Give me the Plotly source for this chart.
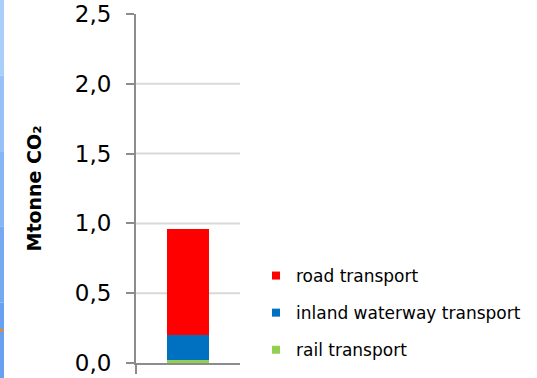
import plotly.graph_objects as go

# CO2 emissions of freight transport, by mode (Mtonne CO2)
modes = ["rail transport", "inland waterway transport", "road transport"]
emissions = {
    "rail transport": [0.02],
    "inland waterway transport": [0.18],
    "road transport": [0.76],
}
colors = {
    "rail transport": "#92d050",
    "inland waterway transport": "#0070c0",
    "road transport": "#ff0000",
}
y_ticks = [0.0, 0.5, 1.0, 1.5, 2.0, 2.5]
y_ticktext = ["0,0", "0,5", "1,0", "1,5", "2,0", "2,5"]
grid_values = [0.5, 1.0, 1.5, 2.0]

FONT = "DejaVu Sans"
W, H = 537, 378
L, R, T, B = 136, 297, 14, 15
plot_w = W - L - R
plot_h = H - T - B

fig = go.Figure()

# stacked bars, bottom to top
for m in modes:
    fig.add_trace(go.Bar(
        x=[0], y=emissions[m], name=m, width=0.41,
        marker=dict(color=colors[m], line=dict(width=0)),
        showlegend=False,
    ))
# legend entries with small square swatches, top segment listed first
for m in reversed(modes):
    fig.add_trace(go.Scatter(
        x=[None], y=[None], mode="markers", name=m, legendgroup=m,
        marker=dict(symbol="square", size=8, color=colors[m]),
    ))

shapes = []
# horizontal gridlines
for v in grid_values:
    shapes.append(dict(type="line", xref="paper", yref="y", x0=0, x1=1,
                       y0=v, y1=v, line=dict(color="#d9d9d9", width=2),
                       layer="below"))
# slide border strip on the left edge
strip = ["#a9cff9", "#98c2f7", "#86b6f5", "#75aaf3", "#689ff1"]
n = len(strip)
for i, c in enumerate(strip):
    shapes.append(dict(type="rect", xref="paper", yref="paper",
                       x0=-L / plot_w, x1=(4 - L) / plot_w,
                       y0=(H - B - (i + 1) * H / n) / plot_h,
                       y1=(H - B - i * H / n) / plot_h,
                       fillcolor=c, line=dict(width=0), layer="below"))
shapes.append(dict(type="rect", xref="paper", yref="paper",
                   x0=-L / plot_w, x1=(3 - L) / plot_w,
                   y0=(H - B - 332) / plot_h, y1=(H - B - 329) / plot_h,
                   fillcolor="#f0891a", line=dict(width=0)))

fig.update_layout(
    width=W, height=H,
    margin=dict(l=L, r=R, t=T, b=B, autoexpand=False),
    paper_bgcolor="white", plot_bgcolor="white",
    barmode="stack",
    font=dict(family=FONT, color="#000000"),
    xaxis=dict(
        range=[-0.5, 0.5], tickvals=[-0.5], ticktext=[""],
        ticks="outside", ticklen=9, tickwidth=2, tickcolor="#8c8c8c",
        showgrid=False, zeroline=False, automargin=False,
        showline=True, linecolor="#8c8c8c", linewidth=2,
        fixedrange=True,
    ),
    yaxis=dict(
        range=[0, 2.5], tickvals=y_ticks, ticktext=y_ticktext,
        ticks="outside", ticklen=8, tickwidth=2, tickcolor="#8c8c8c",
        ticklabelstandoff=10,
        tickfont=dict(size=23, family=FONT),
        showgrid=False, zeroline=False, automargin=False,
        showline=True, linecolor="#8c8c8c", linewidth=2,
        title=dict(text="<b>Mtonne CO₂</b>", font=dict(size=19, family=FONT),
                   standoff=28),
    ),
    legend=dict(
        x=(256 - L) / plot_w, xanchor="left",
        y=(H - B - 258) / plot_h, yanchor="top",
        traceorder="grouped", tracegroupgap=12,
        font=dict(size=17, family=FONT),
        bgcolor="rgba(0,0,0,0)", itemwidth=30,
    ),
    shapes=shapes,
)

fig.write_html("out.html")
